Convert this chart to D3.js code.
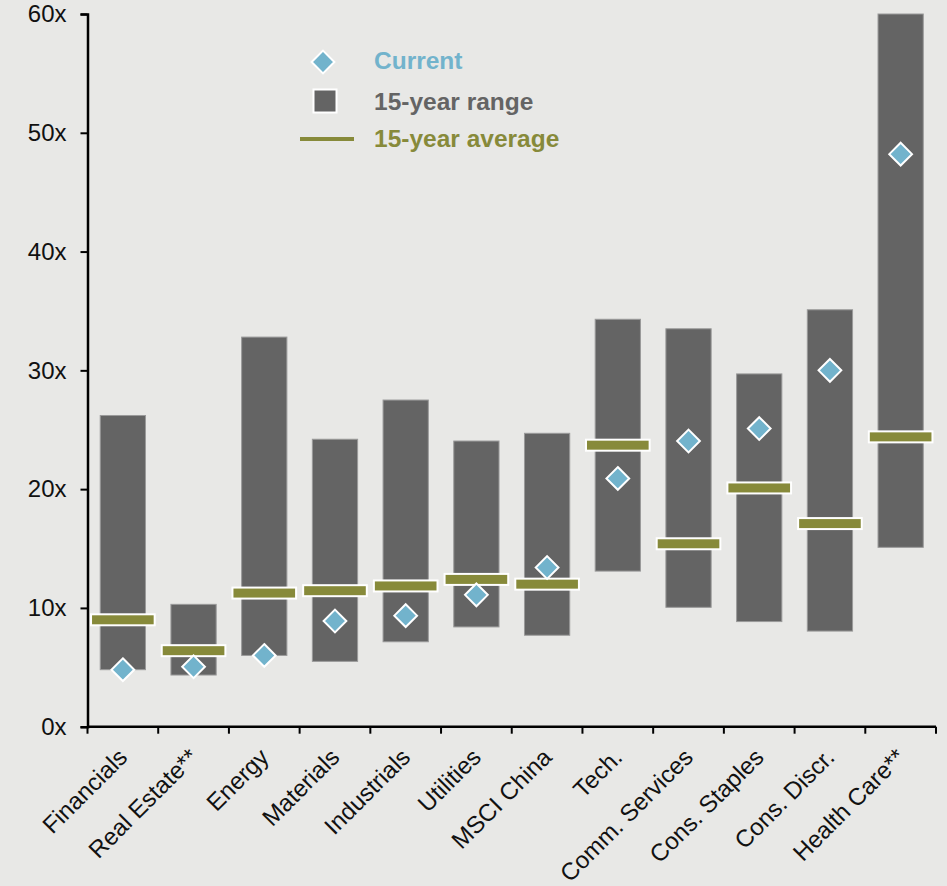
<!DOCTYPE html>
<html><head><meta charset="utf-8">
<script src="https://cdn.jsdelivr.net/npm/d3@7"></script>
<style>
html,body{margin:0;padding:0;background:#e8e8e6;}
svg{display:block;font-family:"Liberation Sans",Arial,sans-serif;}
</style></head>
<body>
<svg id="chart" width="947" height="886"></svg>
<script>
const categories = ["Financials","Real Estate**","Energy","Materials","Industrials","Utilities","MSCI China","Tech.","Comm. Services","Cons. Staples","Cons. Discr.","Health Care**"];
const rangeLow  = [4.8, 4.35, 6.0, 5.5, 7.15, 8.4, 7.7, 13.1, 10.05, 8.85, 8.05, 15.1];
const rangeHigh = [26.2, 10.3, 32.8, 24.2, 27.5, 24.05, 24.7, 34.3, 33.5, 29.7, 35.1, 60];
const average   = [9.0, 6.4, 11.25, 11.45, 11.85, 12.4, 12.0, 23.7, 15.4, 20.1, 17.1, 24.4];
const current   = [4.8, 5.05, 6.0, 8.9, 9.35, 11.1, 13.4, 20.9, 24.05, 25.1, 30.0, 48.2];
const yTicks = [0,10,20,30,40,50,60];
const legendLabels = ["Current","15-year range","15-year average"];

const C = {bg:"#e8e8e6", bar:"#646464", barStroke:"#9a9a9a", avg:"#878a3a", cur:"#72b3cc"};
const svg = d3.select("#chart");
const mLeft = 87.5, mRight = 936, mTop = 14, mBottom = 726.7;

const x = d3.scaleBand().domain(categories).range([mLeft,mRight]).paddingInner(0).paddingOuter(0);
const y = d3.scaleLinear().domain([0,60]).range([mBottom,mTop]);
const bw = x.bandwidth();

const g = svg.append("g");
g.selectAll("rect.range").data(categories).join("rect")
  .attr("class","range")
  .attr("x", d => x(d) + bw*0.18)
  .attr("width", bw*0.64)
  .attr("y", (d,i) => y(rangeHigh[i]))
  .attr("height", (d,i) => y(rangeLow[i]) - y(rangeHigh[i]))
  .attr("fill", C.bar).attr("stroke", C.barStroke).attr("stroke-width",1);

g.selectAll("rect.avg").data(categories).join("rect")
  .attr("class","avg")
  .attr("x", d => x(d) + bw*0.05)
  .attr("width", bw*0.9)
  .attr("y", (d,i) => y(average[i]) - 5.5)
  .attr("height", 11)
  .attr("fill", C.avg).attr("stroke","#fff").attr("stroke-width",2);

const diamond = d3.symbol().type(d3.symbolDiamond2).size(330);
g.selectAll("path.cur").data(categories).join("path")
  .attr("class","cur")
  .attr("transform",(d,i)=>`translate(${x(d)+bw/2},${y(current[i])})`)
  .attr("d", diamond)
  .attr("fill", C.cur).attr("stroke","#fff").attr("stroke-width",2);

const yAxis = d3.axisLeft(y).tickValues(yTicks).tickFormat(d => d + "x").tickSize(7).tickSizeOuter(7).tickPadding(14);
const ya = svg.append("g").attr("transform",`translate(${mLeft},0)`).call(yAxis);
ya.select(".domain").attr("stroke","#000").attr("stroke-width",2.5);
ya.selectAll(".tick line").attr("stroke","#000").attr("stroke-width",2);
ya.selectAll(".tick text").attr("font-size",24).attr("fill","#111").attr("font-family","Liberation Sans, Arial, sans-serif");

const xa = svg.append("g").attr("transform",`translate(0,${mBottom})`);
xa.append("line").attr("x1",mLeft).attr("x2",mRight).attr("y1",0).attr("y2",0).attr("stroke","#000").attr("stroke-width",2.5);
const bounds = categories.map(d => x(d)).concat([mRight]);
xa.selectAll("line.tk").data(bounds).join("line").attr("class","tk")
  .attr("x1",d=>d).attr("x2",d=>d).attr("y1",0).attr("y2",7).attr("stroke","#000").attr("stroke-width",2);
xa.selectAll("text").data(categories).join("text")
  .attr("transform", d => `translate(${x(d)+bw/2+6},${32}) rotate(-45)`)
  .attr("text-anchor","end")
  .attr("font-size",24).attr("fill","#111")
  .text(d => d);

const lg = svg.append("g");
lg.append("path").attr("transform","translate(323,62)").attr("d", diamond)
  .attr("fill",C.cur).attr("stroke","#fff").attr("stroke-width",2);
lg.append("rect").attr("x",313.5).attr("y",89.5).attr("width",23).attr("height",23)
  .attr("fill",C.bar).attr("stroke","#fff").attr("stroke-width",2);
lg.append("line").attr("x1",300).attr("x2",354).attr("y1",139).attr("y2",139)
  .attr("stroke",C.avg).attr("stroke-width",4);
const legColors = [C.cur, C.bar, C.avg];
const legY = [69, 110, 147];
lg.selectAll("text").data(legendLabels).join("text")
  .attr("x",374).attr("y",(d,i)=>legY[i])
  .attr("font-size",24.5).attr("font-weight","bold")
  .attr("fill",(d,i)=>legColors[i]).text(d=>d);
</script>
</body></html>
